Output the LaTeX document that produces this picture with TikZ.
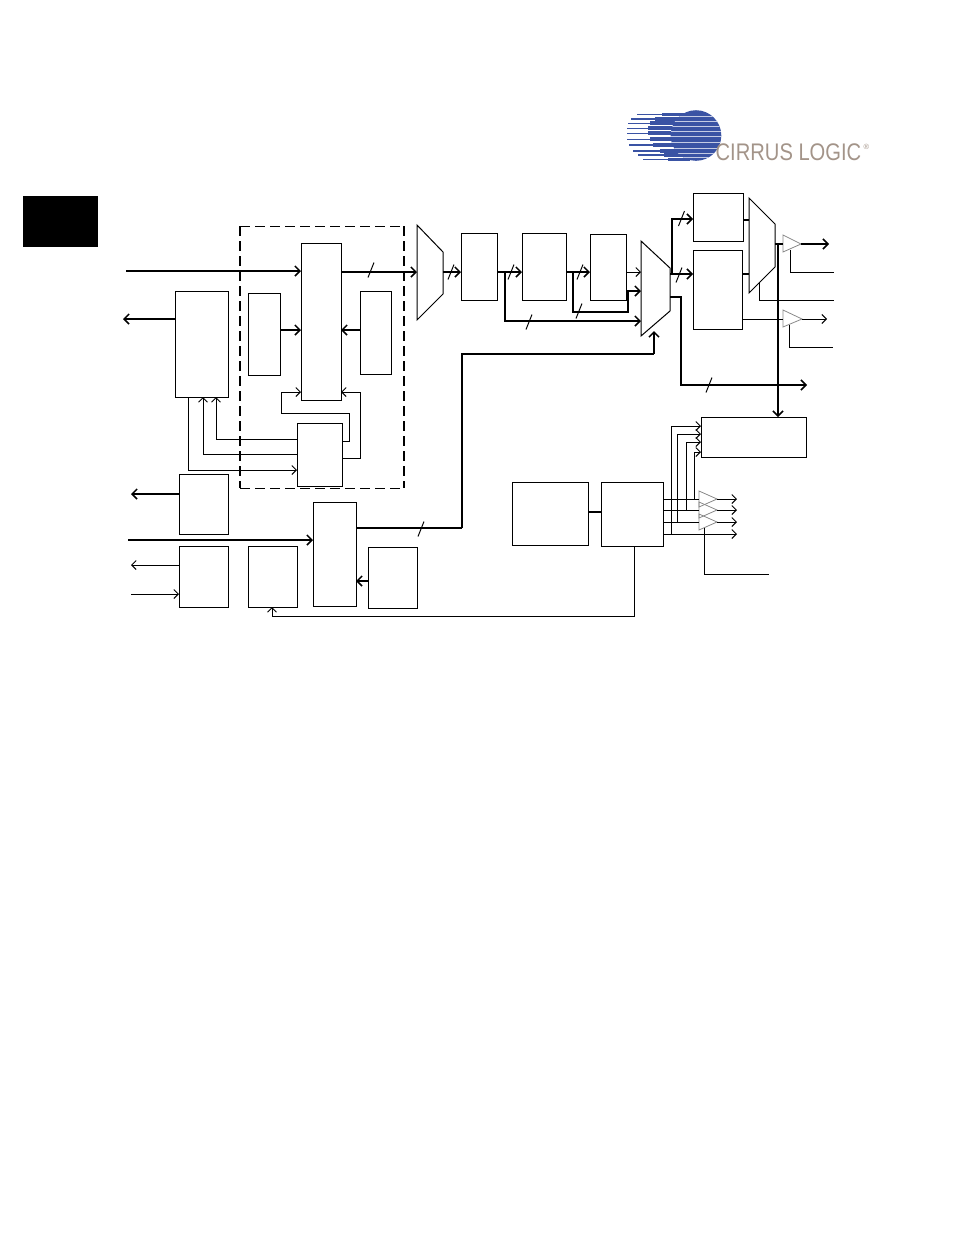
\documentclass[tikz,border=0pt]{standalone}
\usepackage{fontspec}
\setmainfont{Liberation Sans}
\usetikzlibrary{arrows.meta,calc}
\definecolor{cirrusblue}{HTML}{3A53A4}
\definecolor{cirrusgray}{HTML}{A39489}
\definecolor{bufgray}{HTML}{8A8A8A}
\newcommand{\bx}[5]{%
  \pgfmathsetmacro{\bxw}{#4-#2}\pgfmathsetmacro{\bxh}{#5-#3}%
  \pgfmathsetmacro{\bxcx}{(#4+#2)/2}\pgfmathsetmacro{\bxcy}{(#5+#3)/2}%
  \node[boxnode,minimum width=\bxw pt,minimum height=\bxh pt] (#1) at (\bxcx,\bxcy) {};}
\newcommand{\tick}[2]{\draw[wire] ($(#1,#2)+(-3,7.5)$) -- ($(#1,#2)+(3,-7.5)$);}
\tikzset{
  x=1pt,y=-1pt,
  boxnode/.style={draw=black,line width=1pt,inner sep=0pt,outer sep=0pt,fill=none},
  wire/.style={draw=black,line width=1pt},
  bus/.style={draw=black,line width=2pt},
  arrowwire/.style={wire,-{Straight Barb[length=4.5pt,width=9pt,line width=1pt]}},
  arrowbus/.style={bus,-{Straight Barb[length=5pt,width=10pt,line width=1.5pt]}},
  muxshape/.style={draw=black,line width=1pt,line join=miter},
  buffershape/.style={draw=bufgray,line width=.8pt,line join=miter},
  fence/.style={draw=black,dash pattern=on 10pt off 5pt},
}
\begin{document}
\begin{tikzpicture}
\useasboundingbox (0,0) rectangle (954,1235);
% side tab
\fill[black] (23,196) rectangle (98,247);
% logo
\foreach \y/\l/\m/\h in {114.3/637/662/3.6,119/631/655/3.8,123.3/628/650/4,128.3/627/648/4.2,133.3/627/648/4.2,139.3/627/650/4.2,145/629/653/4,151/633/660/3.8,155/638/664/3.4,159.3/643/668/2.8}{
  \fill[cirrusblue] (\l,\y-0.8) rectangle (690,\y+0.8);
  \fill[cirrusblue] (\m,\y-\h/2) rectangle (690,\y+\h/2);
}
\fill[cirrusblue] (696,135.5) circle[radius=25.3pt];
\begin{scope}
  \clip (696,135.5) circle[radius=25.3pt];
  \foreach \y in {116.7,121.2,125.8,130.8,136.3,142.2,148,153,157.2}{
    \fill[white!70!cirrusblue] (664,\y-0.25) rectangle (724,\y+0.25);
  }
\end{scope}
\node[text=cirrusgray,font=\fontsize{24}{24}\selectfont,inner sep=0pt,anchor=base west,xscale=.84,transform shape,name=logotext] at (715.5,160) {CIRRUS LOGIC};
\node[text=cirrusgray,font=\fontsize{7.5}{7.5}\selectfont,inner sep=0pt,name=logomark] at (866.5,147) {®};
% boxes
\bx{A}{301}{243}{341}{400}
\bx{B}{175}{291}{228}{397}
\bx{C}{248}{293}{280}{375}
\bx{D}{360}{291}{391}{374}
\bx{E}{297}{423}{342}{486}
\bx{F}{179}{474}{228}{534}
\bx{G}{179}{546}{228}{607}
\bx{H}{248}{546}{297}{607}
\bx{I}{313}{502}{356}{606}
\bx{J}{368}{547}{417}{608}
\bx{K}{461}{233}{497}{300}
\bx{L}{522}{233}{566}{300}
\bx{M}{590}{234}{626}{300}
\bx{N}{693}{193}{743}{241}
\bx{O}{693}{250}{742}{329}
\bx{P}{701}{417}{806}{457}
\bx{Q}{512}{482}{588}{545}
\bx{R}{601}{482}{663}{546}
% dashed enclosure
\pgfmathsetmacro{\cw}{404-240}\pgfmathsetmacro{\ch}{488-226}
\node[inner sep=0pt,outer sep=0pt,minimum width=\cw pt,minimum height=\ch pt] (cage) at (322,357) {};
\draw[fence,line width=1pt] (cage.north west) -- (cage.north east);
\draw[fence,line width=1pt] (cage.south west) -- (cage.south east);
\draw[fence,line width=2pt] (cage.north west) -- (cage.south west);
\draw[fence,line width=2pt] (cage.north east) -- (cage.south east);
% multiplexers
\draw[muxshape] (417,225) coordinate (m1a) -- (443,252) -- (443,294) -- (417,320) coordinate (m1b) -- cycle;
\draw[muxshape] (641,241) coordinate (m2a) -- (670,268) -- (670,311) coordinate (m2r) -- (641,336) coordinate (m2b) -- cycle;
\draw[muxshape] (749,198) coordinate (m3a) -- (775,224) -- (775,267) -- (749,293) coordinate (m3b) -- cycle;
% output buffers
\draw[buffershape] (783,235) -- (801,244) coordinate (b1o) -- (783,252) -- cycle;
\draw[buffershape] (783,310) -- (802,319) coordinate (b2o) -- (783,327) -- cycle;
\draw[buffershape] (699,491) -- (717,499) coordinate (b3o) -- (699,507) -- cycle;
\draw[buffershape] (699,502) -- (717,510) coordinate (b4o) -- (699,518) -- cycle;
\draw[buffershape] (699,514) -- (717,522) coordinate (b5o) -- (699,530) -- cycle;
% free ends
\coordinate (inA) at (126,271);
\coordinate (outB) at (123,319);
\coordinate (outF) at (131,494);
\coordinate (inI) at (128,540);
\coordinate (outGa) at (131,565);
\coordinate (inGb) at (131,594);
\coordinate (outTop) at (829,244);
\coordinate (outMid) at (827,319);
\coordinate (outBus) at (807,385);
\coordinate (c1) at (834,272);
\coordinate (c2) at (834,300);
\coordinate (c3) at (833,347);
\coordinate (c4) at (769,574);
% main path
\draw[arrowbus] (inA) -- (inA -| A.west);
\draw[arrowbus,line width=1.5pt] (A.east |- 0,272) -- (m1a |- 0,272);
\tick{371}{270}
\draw[arrowbus,line width=1.5pt] (443,272) -- (K.west |- 0,272);
\tick{451}{272}
\draw[arrowbus] (K.east |- 0,272) -- (L.west |- 0,272);
\tick{511}{272}
\draw[arrowbus,line width=1.5pt] (505,272) -- (505,321) -- (m2a |- 0,321);
\tick{529}{322}
\draw[arrowbus] (L.east |- 0,272) -- (M.west |- 0,272);
\tick{580}{272}
\draw[arrowbus] (573,272) -- (573,312) -- (628,312) -- (628,291) -- (m2a |- 0,291);
\tick{579}{311}
\draw[arrowwire] (M.east |- 0,272) -- (m2a |- 0,272);
\draw[arrowbus] (670,274) -- (672,274) -- (672,219) -- (N.west |- 0,219);
\tick{681.5}{218.5}
\draw[arrowbus] (670,274) -- (O.west |- 0,274);
\tick{679}{275}
\draw[arrowbus,line width=1.5pt] (670,297) -- (681,297) -- (681,385) -- (outBus);
\tick{709}{385}
\draw[bus,line width=1.5pt] (N.east |- 0,220) -- (m3a |- 0,220);
\draw[bus,line width=1.5pt] (O.east |- 0,274) -- (m3a |- 0,274);
\draw[bus,line width=1.5pt] (775,244) -- (783,244);
\draw[arrowbus] (b1o) -- (outTop);
\draw[arrowbus] (778,244) -- (P.north -| 778,0);
\draw[wire] (790,250) -- (790,272) -- (c1);
\draw[wire] (759,283) -- (759,300) -- (c2);
\draw[wire] (O.east |- 0,319) -- (783,319);
\draw[arrowwire] (b2o) -- (outMid);
\draw[wire] (789,325) -- (789,347) -- (c3);
% left cluster
\draw[arrowbus,line width=1.5pt] (B.west |- outB) -- (outB);
\draw[arrowbus,line width=1.5pt] (C.east |- 0,330) -- (A.west |- 0,330);
\draw[arrowbus,line width=1.5pt] (D.west |- 0,330) -- (A.east |- 0,330);
\draw[arrowwire] (E.east |- 0,441) -- (349,441) -- (349,413) -- (281,413) -- (281,392) -- (A.west |- 0,392);
\draw[arrowwire] (E.east |- 0,458) -- (360,458) -- (360,392) -- (A.east |- 0,392);
\draw[arrowwire] (E.west |- 0,439) -- (216,439) -- (216,397);
\draw[arrowwire] (E.west |- 0,454) -- (203,454) -- (203,397);
\draw[arrowwire] (188,397) -- (188,470) -- (E.west |- 0,470);
\draw[arrowbus,line width=1.5pt] (F.west |- outF) -- (outF);
\draw[arrowbus,line width=1.5pt] (inI) -- (inI -| I.west);
\draw[arrowwire] (G.west |- outGa) -- (outGa);
\draw[arrowwire] (inGb) -- (inGb -| G.west);
\draw[arrowbus,line width=1.5pt] (J.west |- 0,581) -- (I.east |- 0,581);
\draw[bus] (I.east |- 0,528) -- (462,528);
\draw[wire,line width=1.3pt] (462,528) -- (462,354) -- (654,354);
\draw[arrowbus] (654,354) -- (654,331);
\tick{421}{529}
% lower right
\draw[wire,line width=1.5pt] (Q.east |- 0,512) -- (R.west |- 0,512);
\draw[arrowwire] (634,546) -- (634,616) -- (272,616) -- (272,607);
\draw[wire] (R.east |- 0,499) -- (699,499);
\draw[wire] (R.east |- 0,510) -- (699,510);
\draw[wire] (R.east |- 0,522) -- (699,522);
\draw[arrowwire] (b3o) -- (737,499);
\draw[arrowwire] (b4o) -- (737,510);
\draw[arrowwire] (b5o) -- (737,522);
\draw[arrowwire] (R.east |- 0,534) -- (737,534);
\draw[arrowwire] (671,534) -- (671,426) -- (P.west |- 0,426);
\draw[arrowwire] (677,522) -- (677,434) -- (P.west |- 0,434);
\draw[arrowwire] (686,510) -- (686,442) -- (P.west |- 0,442);
\draw[arrowwire] (694,499) -- (694,452) -- (P.west |- 0,452);
\draw[wire] (704,528) -- (704,574) -- (c4);
\end{tikzpicture}
\end{document}
